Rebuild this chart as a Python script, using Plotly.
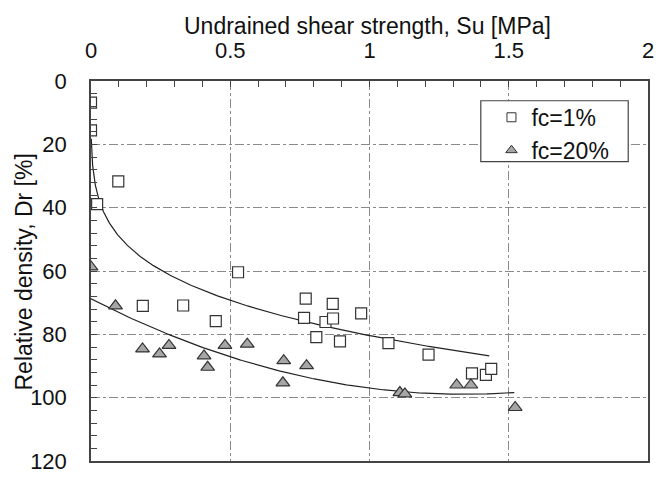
import numpy as np
import plotly.graph_objects as go

# fc = 1% data (Su [MPa], Dr [%])
su_fc1 = [0.0, 0.0, 0.098, 0.022, 0.528, 0.186, 0.331, 0.448, 0.771, 0.868, 0.765,
          0.842, 0.869, 0.970, 0.809, 0.894, 1.068, 1.212, 1.368, 1.418, 1.437]
dr_fc1 = [6.8, 15.6, 31.7, 38.9, 60.4, 71.0, 70.9, 75.8, 68.7, 70.4, 74.8,
          76.1, 75.0, 73.4, 80.9, 82.2, 82.8, 86.4, 92.3, 92.8, 90.9]

# fc = 20% data
su_fc20 = [0.0, 0.088, 0.185, 0.246, 0.280, 0.406, 0.419, 0.481, 0.561, 0.692,
           0.689, 0.774, 1.109, 1.127, 1.313, 1.364, 1.523]
dr_fc20 = [58.7, 71.0, 84.6, 86.2, 83.5, 86.8, 90.4, 83.5, 83.1, 88.3,
           95.3, 89.9, 98.4, 98.8, 96.0, 96.0, 103.1]

# trend-line coefficients
fit1_a, fit1_b, fit1_range = 80.4, 0.215, (0.001, 1.43)        # Dr = a*Su^b
fit20_c, fit20_range = (68.8, 45.0, -16.8), (0.0, 1.52)          # Dr = c0 + c1 Su + c2 Su^2

x_ticks = [0, 0.5, 1, 1.5, 2]
x_ticklabels = ["0", "0.5", "1", "1.5", "2"]
y_ticks = [0, 20, 40, 60, 80, 100, 120]
legend_names = ["fc=1%", "fc=20%"]
x_title = "Undrained shear strength, Su [MPa]"
y_title = "Relative density, Dr [%]"

s1 = np.linspace(fit1_range[0] ** 0.25, fit1_range[1] ** 0.25, 300) ** 4
d1 = fit1_a * s1 ** fit1_b
s20 = np.linspace(fit20_range[0], fit20_range[1], 200)
d20 = fit20_c[0] + fit20_c[1] * s20 + fit20_c[2] * s20 ** 2

FONT = "Liberation Sans, Arial, sans-serif"
FS = 22
fig = go.Figure()
fig.add_trace(go.Scatter(x=s1, y=d1, mode="lines", line=dict(color="#222", width=1.2),
                         showlegend=False, hoverinfo="skip"))
fig.add_trace(go.Scatter(x=s20, y=d20, mode="lines", line=dict(color="#222", width=1.2),
                         showlegend=False, hoverinfo="skip"))
fig.add_trace(go.Scatter(x=su_fc1, y=dr_fc1, mode="markers", showlegend=False,
                         marker=dict(symbol="square", size=11, color="white",
                                     line=dict(color="#333", width=1.2))))
fig.add_trace(go.Scatter(x=su_fc20, y=dr_fc20, mode="markers", showlegend=False,
                         marker=dict(symbol="triangle-up", size=12, color="#a6a6a6",
                                     line=dict(color="#333", width=1.2))))
# legend entries
fig.add_trace(go.Scatter(x=[None], y=[None], mode="markers", name=legend_names[0],
                         marker=dict(symbol="square", size=9, color="white",
                                     line=dict(color="#333", width=1))))
fig.add_trace(go.Scatter(x=[None], y=[None], mode="markers", name=legend_names[1],
                         marker=dict(symbol="triangle-up", size=10, color="#a6a6a6",
                                     line=dict(color="#333", width=1))))

axis_common = dict(showline=True, mirror=True, linecolor="#444", linewidth=1.5,
                   showgrid=True, gridcolor="#8a8a8a", griddash="dashdot", gridwidth=1,
                   zeroline=False, ticks="inside", ticklen=6, tickcolor="#444",
                   tickfont=dict(family=FONT, size=FS, color="#111"),
                   ticklabeloverflow="allow")

fig.update_xaxes(range=[0, 2], side="top", tickvals=x_ticks, ticktext=x_ticklabels,
                 minor=dict(dtick=0.1, ticks="inside", ticklen=6, tickcolor="#444", showgrid=False),
                 ticklabelstandoff=12, **axis_common)
fig.update_yaxes(range=[120, 0], tickvals=y_ticks,
                 minor=dict(dtick=4, ticks="inside", ticklen=6, tickcolor="#444", showgrid=False),
                 ticklabelstandoff=18, **axis_common)

# axis titles
fig.add_annotation(text=x_title, xref="paper", yref="paper", x=0.497, y=1,
                   xanchor="center", yanchor="middle", yshift=55, showarrow=False,
                   font=dict(family=FONT, size=23, color="#111"))
fig.add_annotation(text=y_title, xref="paper", yref="paper", x=0, y=0.5, textangle=-90,
                   xanchor="center", yanchor="middle", xshift=-68, yshift=-1.5, showarrow=False,
                   font=dict(family=FONT, size=23, color="#111"))

# legend frame (paper coords derived from plot area 91..654 x 81..468 px)
fig.add_shape(type="rect", xref="paper", yref="paper", x0=0.6998, x1=0.9645, y0=0.788, y1=0.948,
              line=dict(color="#444", width=1.2), fillcolor="white", layer="above")

fig.update_layout(width=660, height=480, margin=dict(l=91, r=6, t=81, b=12),
                  paper_bgcolor="white", plot_bgcolor="white",
                  font=dict(family=FONT, size=FS, color="#111"),
                  legend=dict(x=0.719, y=0.961, xanchor="left", yanchor="top",
                              bgcolor="rgba(0,0,0,0)", borderwidth=0,
                              font=dict(family=FONT, size=23), itemwidth=30,
                              tracegroupgap=0))
fig.write_html("out.html")
